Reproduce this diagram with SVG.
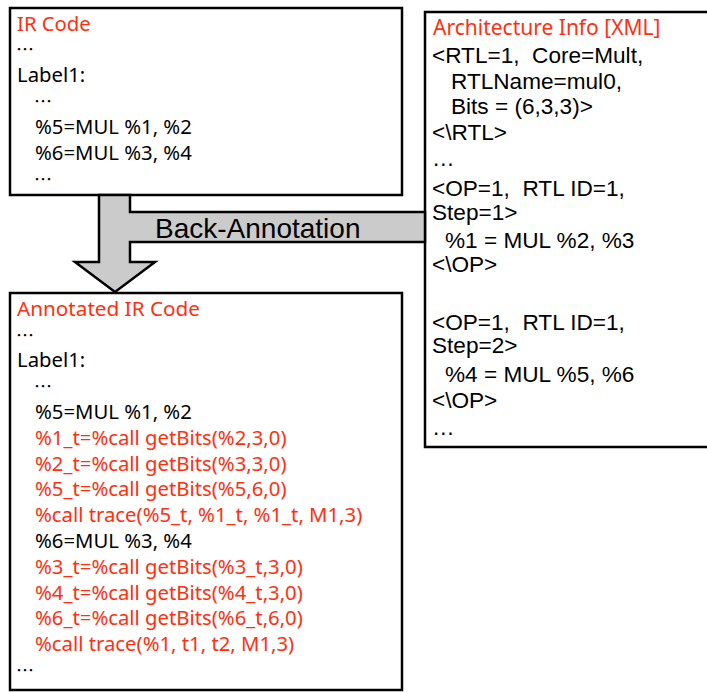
<svg xmlns="http://www.w3.org/2000/svg" width="707" height="692" viewBox="0 0 707 692">
<style>
.box{fill:#fff;stroke:#000;stroke-width:2.5}
.k{font-family:"Noto Sans","Noto Sans CJK KR",sans-serif;font-size:20.3px;fill:#000}
.d{font-family:"Noto Sans CJK KR","Noto Sans",sans-serif;font-size:17px;fill:#000}
.r{fill:#ff3010}
.t{font-size:21px}
.a{font-family:"Liberation Sans",Arial,sans-serif;font-size:22.6px;fill:#000;white-space:pre}
.arrow{fill:#cbcbcb;stroke:#000;stroke-width:2.5;stroke-linejoin:miter}
.lbl{font-family:"Liberation Sans",Arial,sans-serif;font-size:28px;fill:#000}
</style>
<g id="ir-code">
<rect class="box" x="10" y="8" width="392" height="187"/>
<text class="k r" x="17" y="31">IR Code</text>
<text class="d" x="16" y="56" textLength="18" lengthAdjust="spacingAndGlyphs">⋯</text>
<text class="k" x="17" y="82">Label1:</text>
<text class="d" x="34" y="108" textLength="18" lengthAdjust="spacingAndGlyphs">⋯</text>
<text class="k" x="35" y="134">%5=MUL %1, %2</text>
<text class="k" x="35" y="160">%6=MUL %3, %4</text>
<text class="d" x="34" y="185.5" textLength="18" lengthAdjust="spacingAndGlyphs">⋯</text>
</g>
<g id="arch-info">
<rect class="box" x="425" y="12" width="300" height="435"/>
<text class="k r t" x="433" y="35">Architecture Info [XML]</text>
<text class="a" x="432" y="63" xml:space="preserve">&lt;RTL=1,  Core=Mult,</text>
<text class="a" x="451" y="89">RTLName=mul0,</text>
<text class="a" x="451" y="114">Bits = (6,3,3)&gt;</text>
<text class="a" x="432" y="140">&lt;\RTL&gt;</text>
<text class="a" x="432" y="166">…</text>
<text class="a" x="432" y="196" xml:space="preserve">&lt;OP=1,  RTL ID=1,</text>
<text class="a" x="432" y="220">Step=1&gt;</text>
<text class="a" x="445" y="248">%1 = MUL %2, %3</text>
<text class="a" x="432" y="272">&lt;\OP&gt;</text>
<text class="a" x="432" y="330" xml:space="preserve">&lt;OP=1,  RTL ID=1,</text>
<text class="a" x="432" y="353">Step=2&gt;</text>
<text class="a" x="445" y="382">%4 = MUL %5, %6</text>
<text class="a" x="432" y="408">&lt;\OP&gt;</text>
<text class="a" x="432" y="435">…</text>
</g>
<g id="connectors">
<path class="arrow" d="M99,195 L130,195 L130,212 L425,212 L425,242 L130,242 L130,262 L155,262 L115,292 L75,262 L99,262 Z"/>
<text class="lbl" x="155" y="238">Back-Annotation</text>
</g>
<g id="annotated-ir">
<rect class="box" x="10" y="293" width="392" height="397"/>
<text class="k r" x="17" y="316" style="font-size:20.7px">Annotated IR Code</text>
<text class="d" x="16" y="341.5" textLength="18" lengthAdjust="spacingAndGlyphs">⋯</text>
<text class="k" x="17" y="367">Label1:</text>
<text class="d" x="34" y="393" textLength="18" lengthAdjust="spacingAndGlyphs">⋯</text>
<text class="k" x="35" y="419">%5=MUL %1, %2</text>
<text class="k r" x="35" y="444.8">%1_t=%call getBits(%2,3,0)</text>
<text class="k r" x="35" y="470.6">%2_t=%call getBits(%3,3,0)</text>
<text class="k r" x="35" y="496.4">%5_t=%call getBits(%5,6,0)</text>
<text class="k r" x="35" y="522.2">%call trace(%5_t, %1_t, %1_t, M1,3)</text>
<text class="k" x="35" y="548">%6=MUL %3, %4</text>
<text class="k r" x="35" y="573.8">%3_t=%call getBits(%3_t,3,0)</text>
<text class="k r" x="35" y="599.6">%4_t=%call getBits(%4_t,3,0)</text>
<text class="k r" x="35" y="625.4">%6_t=%call getBits(%6_t,6,0)</text>
<text class="k r" x="35" y="651.2">%call trace(%1, t1, t2, M1,3)</text>
<text class="d" x="16" y="677" textLength="18" lengthAdjust="spacingAndGlyphs">⋯</text>
</g>
</svg>
